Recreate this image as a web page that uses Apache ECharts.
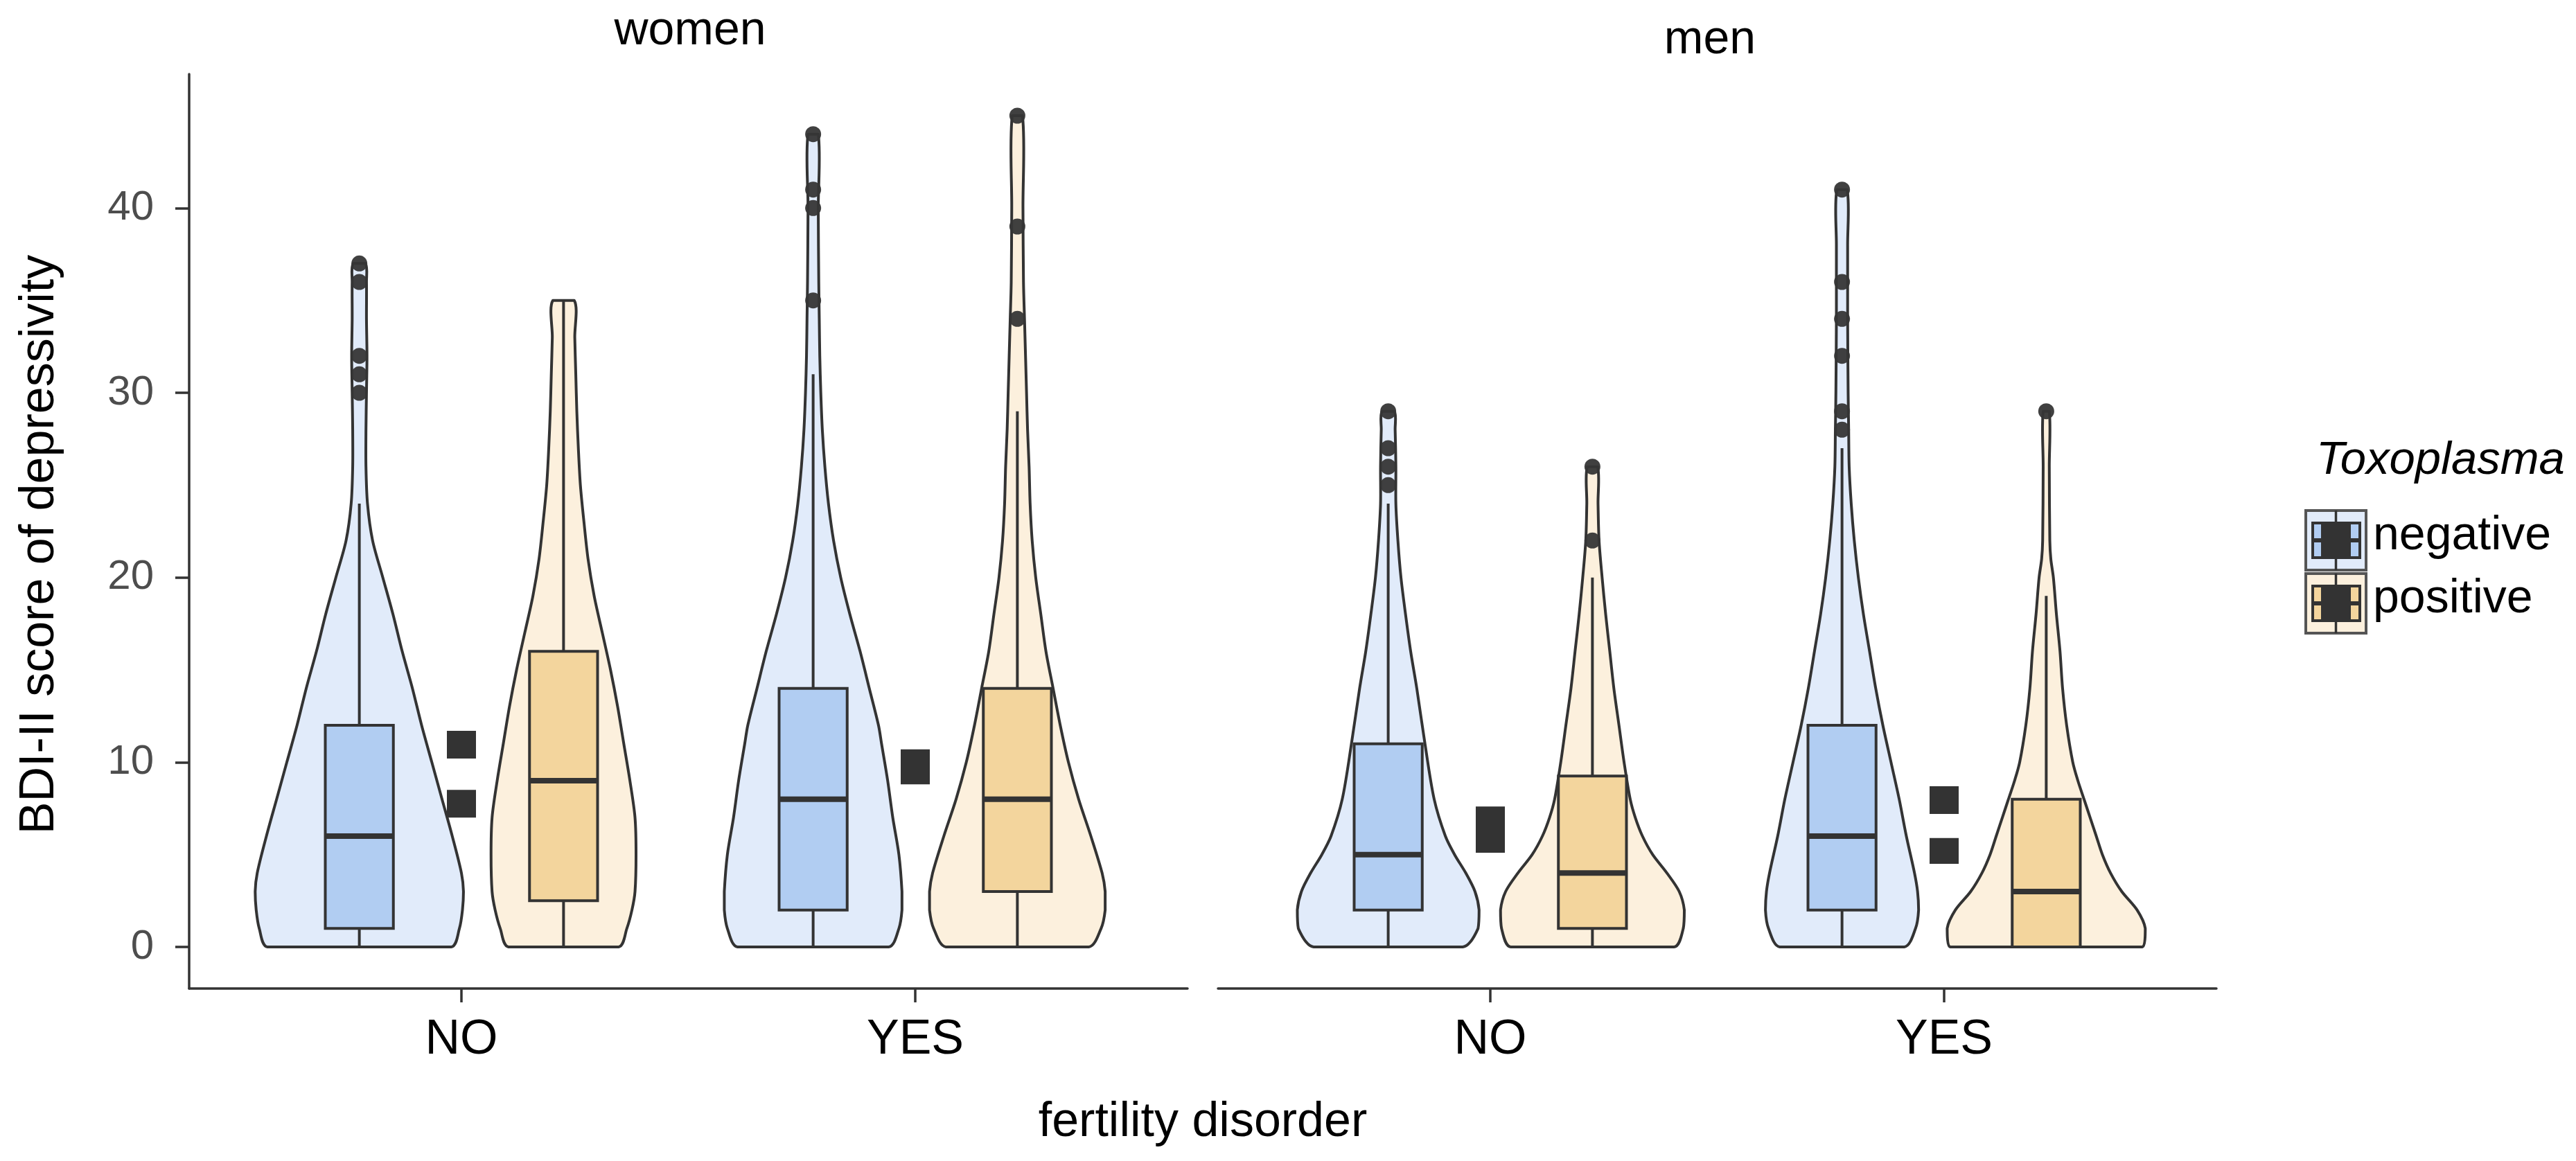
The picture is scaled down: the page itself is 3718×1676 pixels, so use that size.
<!DOCTYPE html>
<html>
<head>
<meta charset="utf-8">
<title>BDI-II score of depressivity</title>
<script src="https://cdn.jsdelivr.net/npm/echarts@6.0.0/dist/echarts.min.js"></script>
<style>
html, body { margin: 0; padding: 0; background: #ffffff; }
#chart { width: 3718px; height: 1676px; }
</style>
</head>
<body>
<div id="chart"></div>
<script>
// ---------------- data ----------------
const panels = ['women', 'men'];
const fertility = ['NO', 'YES'];
const toxoplasma = ['negative', 'positive'];
const yTicks = [0, 10, 20, 30, 40];

// violin outlines: [BDI-II score, relative half-width of the density]
const violinWomenNoNeg = [[0,0.90],[1,0.98],[2,1.01],[3,1.02],[4,1.00],[6,0.91],[8,0.81],[10,0.71],[12,0.61],[14,0.52],[16,0.42],[18,0.33],[20,0.23],[22,0.13],[24,0.08],[26,0.065],[28,0.065],[30,0.07],[32,0.075],[34,0.07],[36,0.07],[37,0.06]];
const violinWomenNoPos = [[0,0.54],[1,0.62],[2,0.67],[3,0.70],[5,0.71],[7,0.70],[9,0.65],[11,0.59],[13,0.53],[15,0.46],[17,0.38],[19,0.30],[21,0.24],[23,0.20],[25,0.165],[27,0.145],[29,0.13],[31,0.12],[33,0.11],[35,0.105]];
const violinWomenYesNeg = [[0,0.74],[1,0.84],[2,0.87],[3,0.87],[5,0.84],[7,0.78],[9,0.73],[11,0.67],[12,0.64],[14,0.55],[16,0.46],[18,0.36],[20,0.27],[22,0.20],[24,0.15],[26,0.115],[28,0.09],[30,0.075],[32,0.065],[34,0.06],[36,0.055],[40,0.05],[44,0.05]];
const violinWomenYesPos = [[0,0.70],[1,0.82],[2,0.86],[3,0.86],[4,0.83],[6,0.72],[8,0.60],[10,0.50],[12,0.42],[14,0.35],[16,0.28],[18,0.23],[20,0.18],[22,0.145],[24,0.125],[26,0.115],[28,0.10],[30,0.09],[32,0.08],[34,0.07],[36,0.06],[40,0.055],[45,0.05]];
const violinMenNoNeg = [[0,0.73],[1,0.88],[2,0.89],[3,0.85],[4,0.76],[5,0.65],[6,0.56],[8,0.45],[11,0.36],[14,0.28],[16,0.22],[18,0.17],[20,0.125],[22,0.095],[24,0.075],[26,0.075],[28,0.068],[29,0.06]];
const violinMenNoPos = [[0,0.80],[1,0.89],[2,0.90],[3,0.85],[4,0.73],[5,0.59],[6,0.49],[7,0.42],[8,0.37],[10,0.31],[12,0.26],[14,0.21],[16,0.17],[18,0.13],[20,0.095],[22,0.065],[24,0.055],[26,0.05]];
const violinMenYesNeg = [[0,0.61],[1,0.72],[2,0.75],[3,0.74],[4,0.71],[6,0.63],[8,0.56],[10,0.48],[12,0.40],[14,0.33],[16,0.27],[18,0.21],[20,0.16],[22,0.12],[24,0.09],[26,0.07],[28,0.065],[30,0.06],[34,0.055],[38,0.055],[41,0.05]];
const violinMenYesPos = [[0,0.94],[1,0.97],[2,0.89],[3,0.74],[4,0.63],[5,0.55],[6,0.49],[7,0.43],[8,0.37],[9,0.31],[10,0.26],[12,0.20],[14,0.16],[16,0.135],[18,0.10],[20,0.07],[21,0.045],[22,0.035],[26,0.03],[29,0.03]];

// box statistics: [lower whisker, Q1, median, Q3, upper whisker]
const boxWomenNoNeg = [0, 1, 6, 12, 24];
const boxWomenNoPos = [0, 2.5, 9, 16, 35];
const boxWomenYesNeg = [0, 2, 8, 14, 31];
const boxWomenYesPos = [0, 3, 8, 14, 29];
const boxMenNoNeg = [0, 2, 5, 11, 24];
const boxMenNoPos = [0, 1, 4, 9.25, 20];
const boxMenYesNeg = [0, 2, 6, 12, 27];
const boxMenYesPos = [0, 0, 3, 8, 19];

// outliers
const outWomenNoNeg = [30, 31, 32, 36, 37];
const outWomenNoPos = [];
const outWomenYesNeg = [35, 40, 41, 44];
const outWomenYesPos = [34, 39, 45];
const outMenNoNeg = [25, 26, 27, 29];
const outMenNoPos = [22, 26];
const outMenYesNeg = [28, 29, 32, 34, 36, 41];
const outMenYesPos = [29];

// dark marks between each pair: [fertility position, low score, high score]
const marksWomen = [[1, 10.2, 11.7], [1, 7.0, 8.5], [2, 8.8, 10.7]];
const marksMen = [[1, 5.1, 7.6], [2, 7.2, 8.7], [2, 4.5, 5.9]];

// ---------------- styling / layout ----------------
const FONT = 'Liberation Sans, Arial, sans-serif';
const LINE = '#333333';
const violinFill = ['#E1EBFA', '#FCF0DD'];
const boxFill = ['#B1CDF2', '#F3D59D'];
const OFFSET = [-0.225, 0.225];
const HALF = 0.225;
const BOXHALF = 0.075;

const groupsByPanel = [
  [
    {cat: 1, grp: 0, violin: violinWomenNoNeg, box: boxWomenNoNeg, out: outWomenNoNeg},
    {cat: 1, grp: 1, violin: violinWomenNoPos, box: boxWomenNoPos, out: outWomenNoPos},
    {cat: 2, grp: 0, violin: violinWomenYesNeg, box: boxWomenYesNeg, out: outWomenYesNeg},
    {cat: 2, grp: 1, violin: violinWomenYesPos, box: boxWomenYesPos, out: outWomenYesPos}
  ],
  [
    {cat: 1, grp: 0, violin: violinMenNoNeg, box: boxMenNoNeg, out: outMenNoNeg},
    {cat: 1, grp: 1, violin: violinMenNoPos, box: boxMenNoPos, out: outMenNoPos},
    {cat: 2, grp: 0, violin: violinMenYesNeg, box: boxMenYesNeg, out: outMenYesNeg},
    {cat: 2, grp: 1, violin: violinMenYesPos, box: boxMenYesPos, out: outMenYesPos}
  ]
];
const marksByPanel = [marksWomen, marksMen];

function violinSeries(p) {
  const items = groupsByPanel[p];
  return {
    type: 'custom', name: panels[p] + ' violin', xAxisIndex: p, yAxisIndex: p,
    silent: true,
    data: items.map(function (it, i) { return [it.cat + OFFSET[it.grp], i]; }),
    renderItem: function (params, api) {
      const it = items[params.dataIndex];
      const cx = it.cat + OFFSET[it.grp];
      const right = it.violin.map(function (d) { return api.coord([cx + d[1] * HALF, d[0]]); });
      const left = it.violin.slice().reverse().map(function (d) { return api.coord([cx - d[1] * HALF, d[0]]); });
      const pts = right.concat(left);
      let minX = Infinity, minY = Infinity, maxX = -Infinity, maxY = -Infinity;
      pts.forEach(function (q) { minX = Math.min(minX, q[0]); maxX = Math.max(maxX, q[0]); minY = Math.min(minY, q[1]); maxY = Math.max(maxY, q[1]); });
      return {
        type: 'polygon',
        shape: { points: pts, smooth: 0.3, smoothConstraint: [[minX, minY], [maxX, maxY]] },
        style: { fill: violinFill[it.grp], stroke: LINE, lineWidth: 4, lineJoin: 'round' }
      };
    }
  };
}

function boxSeries(p) {
  const items = groupsByPanel[p];
  return {
    type: 'custom', name: panels[p] + ' box', xAxisIndex: p, yAxisIndex: p,
    silent: true,
    data: items.map(function (it, i) { return [it.cat + OFFSET[it.grp], it.box[2]]; }),
    renderItem: function (params, api) {
      const it = items[params.dataIndex];
      const cx = it.cat + OFFSET[it.grp];
      const b = it.box;
      const lo = api.coord([cx, b[0]]), q1 = api.coord([cx, b[1]]), q3 = api.coord([cx, b[3]]), hi = api.coord([cx, b[4]]);
      const tl = api.coord([cx - BOXHALF, b[3]]), br = api.coord([cx + BOXHALF, b[1]]);
      const m1 = api.coord([cx - BOXHALF, b[2]]), m2 = api.coord([cx + BOXHALF, b[2]]);
      return {
        type: 'group',
        children: [
          { type: 'line', shape: { x1: lo[0], y1: lo[1], x2: q1[0], y2: q1[1] }, style: { stroke: LINE, lineWidth: 4 } },
          { type: 'line', shape: { x1: q3[0], y1: q3[1], x2: hi[0], y2: hi[1] }, style: { stroke: LINE, lineWidth: 4 } },
          { type: 'rect', shape: { x: tl[0], y: tl[1], width: br[0] - tl[0], height: br[1] - tl[1] }, style: { fill: boxFill[it.grp], stroke: LINE, lineWidth: 4 } },
          { type: 'line', shape: { x1: m1[0], y1: m1[1], x2: m2[0], y2: m2[1] }, style: { stroke: LINE, lineWidth: 8 } }
        ]
      };
    }
  };
}

function outlierSeries(p) {
  const data = [];
  groupsByPanel[p].forEach(function (it) {
    it.out.forEach(function (v) { data.push([it.cat + OFFSET[it.grp], v]); });
  });
  return {
    type: 'scatter', name: panels[p] + ' outliers', xAxisIndex: p, yAxisIndex: p,
    silent: true, symbol: 'circle', symbolSize: 23,
    itemStyle: { color: '#363636', opacity: 0.95 },
    data: data
  };
}

function markSeries(p) {
  const marks = marksByPanel[p];
  return {
    type: 'custom', name: panels[p] + ' marks', xAxisIndex: p, yAxisIndex: p,
    silent: true,
    data: marks.map(function (m) { return [m[0], m[1], m[2]]; }),
    renderItem: function (params, api) {
      const top = api.coord([api.value(0), api.value(2)]);
      const bot = api.coord([api.value(0), api.value(1)]);
      return { type: 'rect', shape: { x: top[0] - 21, y: top[1], width: 42, height: bot[1] - top[1] }, style: { fill: '#333333' } };
    }
  };
}

function xAxisCfg(i) {
  return {
    type: 'value', gridIndex: i, min: 0.4, max: 2.6,
    axisLine: { show: true, onZero: false, lineStyle: { color: LINE, width: 3.5 } },
    axisTick: { show: true, customValues: [1, 2], length: 20, lineStyle: { color: LINE, width: 3.5 } },
    axisLabel: { show: true, customValues: [1, 2], formatter: function (v) { return fertility[Math.round(v) - 1]; },
      fontSize: 70, color: '#000000', margin: 40, fontFamily: FONT },
    splitLine: { show: false }
  };
}

const legendTop = [737, 828];
const legendGraphics = [];
legendGraphics.push({ type: 'text', x: 3343, y: 665,
  style: { text: 'Toxoplasma', fontSize: 67, fontStyle: 'italic', fontFamily: FONT, fill: '#000',
    align: 'left', textAlign: 'left', verticalAlign: 'middle', textVerticalAlign: 'middle' } });
toxoplasma.forEach(function (name, k) {
  const L = 3328, T = legendTop[k];
  legendGraphics.push({ type: 'rect', shape: { x: L, y: T, width: 87, height: 86 }, style: { fill: violinFill[k], stroke: '#555555', lineWidth: 4 } });
  legendGraphics.push({ type: 'line', shape: { x1: L + 43.5, y1: T, x2: L + 43.5, y2: T + 86 }, style: { stroke: LINE, lineWidth: 3.5 } });
  legendGraphics.push({ type: 'rect', shape: { x: L + 10, y: T + 18, width: 68, height: 50 }, style: { fill: boxFill[k], stroke: LINE, lineWidth: 4 } });
  legendGraphics.push({ type: 'line', shape: { x1: L + 10, y1: T + 43, x2: L + 78, y2: T + 43 }, style: { stroke: LINE, lineWidth: 6 } });
  legendGraphics.push({ type: 'rect', shape: { x: L + 22, y: T + 18, width: 43, height: 50 }, style: { fill: '#333333' } });
  legendGraphics.push({ type: 'text', x: 3425, y: T + 37,
    style: { text: name, fontSize: 68, fontFamily: FONT, fill: '#000',
      align: 'left', textAlign: 'left', verticalAlign: 'middle', textVerticalAlign: 'middle' } });
});

function textEl(txt, x, y, size, extra) {
  const el = { type: 'text', x: x, y: y,
    style: { text: txt, fontSize: size, fontFamily: FONT, fill: '#000',
      align: 'center', textAlign: 'center', verticalAlign: 'middle', textVerticalAlign: 'middle' } };
  if (extra) Object.assign(el, extra);
  return el;
}

const option = {
  animation: false,
  backgroundColor: '#ffffff',
  grid: [
    { left: 273, top: 107, width: 1441, height: 1320, containLabel: false },
    { left: 1758, top: 107, width: 1441, height: 1320, containLabel: false }
  ],
  xAxis: [xAxisCfg(0), xAxisCfg(1)],
  yAxis: [
    { type: 'value', gridIndex: 0, min: -2.25, max: 47.25,
      axisLine: { show: true, onZero: false, lineStyle: { color: LINE, width: 3.5 } },
      axisTick: { show: true, customValues: yTicks, length: 20, lineStyle: { color: LINE, width: 3.5 } },
      axisLabel: { show: true, customValues: yTicks, fontSize: 60, color: '#4d4d4d', margin: 51, fontFamily: FONT },
      splitLine: { show: false } },
    { type: 'value', gridIndex: 1, min: -2.25, max: 47.25, show: false, splitLine: { show: false } }
  ],
  series: [
    violinSeries(0), boxSeries(0), outlierSeries(0), markSeries(0),
    violinSeries(1), boxSeries(1), outlierSeries(1), markSeries(1)
  ],
  graphic: [
    textEl(panels[0], 996, 45, 68),
    textEl(panels[1], 2468, 58, 68),
    textEl('fertility disorder', 1736, 1621, 70),
    textEl('BDI-II score of depressivity', 58, 786, 70, { rotation: Math.PI / 2 })
  ].concat(legendGraphics)
};

const chart = echarts.init(document.getElementById('chart'), null, { renderer: 'canvas' });
chart.setOption(option);
</script>
</body>
</html>
